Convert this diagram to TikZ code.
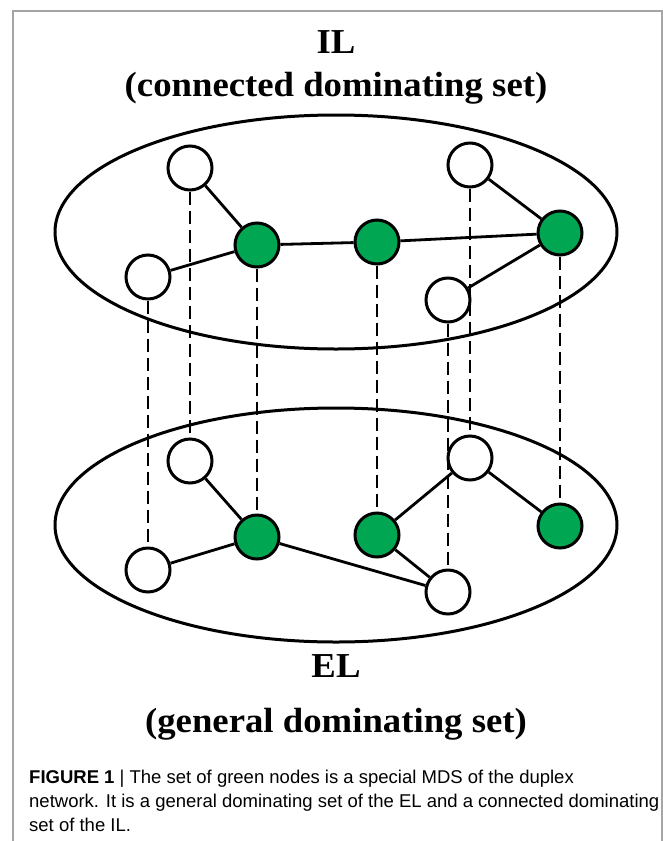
\documentclass[tikz,border=0pt]{standalone}
\usepackage{fontspec}
\usepackage{graphicx}
\usetikzlibrary{shapes.geometric}
\setmainfont{Liberation Serif}
\newfontfamily\capfont{Liberation Sans}
\definecolor{nodegreen}{RGB}{0,166,81}
\definecolor{framegray}{RGB}{165,165,165}
\begin{document}
\begin{tikzpicture}[x=1pt,y=-1pt,
  vert/.style={circle, draw=black, line width=3pt, minimum size=44pt, inner sep=0pt},
  wnode/.style={vert, fill=white},
  gnode/.style={vert, fill=nodegreen},
  edge/.style={line width=2.8pt},
  link/.style={line width=2.6pt, dash pattern=on 13pt off 6pt},
  layer/.style={ellipse, draw, line width=3pt, minimum width=562pt, minimum height=234pt, inner sep=0pt},
  titletext/.style={font=\fontsize{35}{35}\selectfont\bfseries, anchor=base, inner sep=0pt},
  captext/.style={font=\capfont\fontsize{18.5}{18.5}\selectfont, anchor=base west, inner sep=0pt}
]
\useasboundingbox (0,0) rectangle (663,841);
\fill[white] (0,0) rectangle (663,841);
\draw[framegray, line width=1.5pt] (13,841) -- (13,11) -- (662,11) -- (662,841);

% layers
\node[layer] (ILlayer) at (336,232) {};
\node[layer] (ELlayer) at (336,525) {};

% titles
\node[titletext] (ILt) at (336,53) {\scalebox{1.05}[1]{IL}};
\node[titletext] (ILs) at (336,96) {\scalebox{1.05}[1]{(connected dominating set)}};
\node[titletext] (ELt) at (336,677) {\scalebox{1.05}[1]{EL}};
\node[titletext] (ELs) at (336,732) {\scalebox{1.05}[1]{(general dominating set)}};

% IL nodes
\node[wnode] (a1) at (190,168) {};
\node[wnode] (a2) at (148,277) {};
\node[gnode] (a3) at (257,245) {};
\node[gnode] (a4) at (377,242) {};
\node[wnode] (a5) at (470,165) {};
\node[gnode] (a6) at (560,233) {};
\node[wnode] (a7) at (448,300) {};

% EL nodes
\node[wnode] (b1) at (190,461) {};
\node[wnode] (b2) at (148,570) {};
\node[gnode] (b3) at (257,537) {};
\node[gnode] (b4) at (377,535) {};
\node[wnode] (b5) at (470,458) {};
\node[gnode] (b6) at (560,526) {};
\node[wnode] (b7) at (448,592) {};

% IL edges
\draw[edge] (a1) -- (a3);
\draw[edge] (a2) -- (a3);
\draw[edge] (a3) -- (a4);
\draw[edge] (a4) -- (a6);
\draw[edge] (a5) -- (a6);
\draw[edge] (a7) -- (a6);

% EL edges
\draw[edge] (b1) -- (b3);
\draw[edge] (b2) -- (b3);
\draw[edge] (b3) -- (b7);
\draw[edge] (b4) -- (b7);
\draw[edge] (b4) -- (b5);
\draw[edge] (b5) -- (b6);

% inter-layer links
\draw[link] (a1) -- (b1);
\draw[link] (a2) -- (b2);
\draw[link] (a3) -- (b3);
\draw[link] (a4) -- (b4);
\draw[link] (a5) -- (b5);
\draw[link] (a6) -- (b6);
\draw[link] (a7) -- (b7);

% caption
\node[captext] (c1) at (29,783) {\textbf{FIGURE 1} | The set of green nodes is a special MDS of the duplex};
\node[captext] (c2) at (29,807) {network. It is a general dominating set of the EL and a connected dominating};
\node[captext] (c3) at (29,831) {set of the IL.};
\end{tikzpicture}
\end{document}
